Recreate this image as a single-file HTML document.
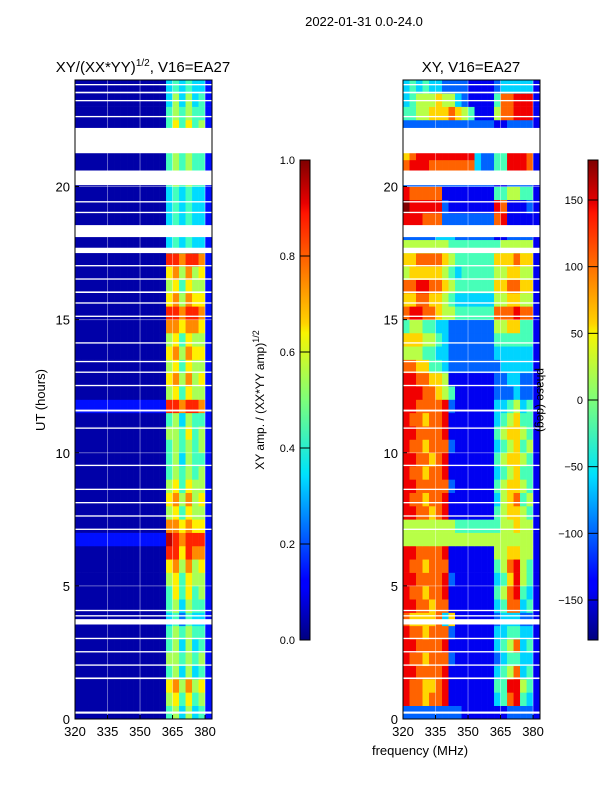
<!DOCTYPE html>
<html><head><meta charset="utf-8">
<style>
body{margin:0;background:#fff;}
svg text{font-family:"Liberation Sans","DejaVu Sans",sans-serif;fill:#000;}
</style></head>
<body>
<svg id="fig" width="600" height="800" viewBox="0 0 600 800" xmlns="http://www.w3.org/2000/svg">
<defs>
<linearGradient id="jet" x1="0" y1="1" x2="0" y2="0">
<stop offset="0" stop-color="#00007f"/>
<stop offset="0.11" stop-color="#0000ff"/>
<stop offset="0.125" stop-color="#0000ff"/>
<stop offset="0.34" stop-color="#00dcff"/>
<stop offset="0.35" stop-color="#00e4f8"/>
<stop offset="0.5" stop-color="#7dff7a"/>
<stop offset="0.64" stop-color="#f8f500"/>
<stop offset="0.66" stop-color="#ffd200"/>
<stop offset="0.89" stop-color="#ff1300"/>
<stop offset="0.91" stop-color="#e80000"/>
<stop offset="1" stop-color="#7f0000"/>
</linearGradient>
</defs>
<text x="364" y="26" font-size="13" text-anchor="middle">2022-01-31 0.0-24.0</text>
<text x="143" y="72" font-size="15" text-anchor="middle">XY/(XX*YY)<tspan dy="-6" font-size="10">1/2</tspan><tspan dy="6">, V16=EA27</tspan></text>
<text x="471" y="72" font-size="15" text-anchor="middle">XY, V16=EA27</text>
<text transform="translate(45,400) rotate(-90)" font-size="13" text-anchor="middle">UT (hours)</text>
<text x="420" y="755" font-size="13" text-anchor="middle">frequency (MHz)</text>
<g id="leftPanel"></g>
<g id="rightPanel"></g>
<g id="cbars"></g>
<text transform="translate(264,400) rotate(-90)" font-size="12" text-anchor="middle">XY amp. / (XX*YY amp)<tspan dy="-5" font-size="9">1/2</tspan></text>
<text transform="translate(537,400) rotate(90)" font-size="12" text-anchor="middle">phase (deg)</text>
</svg>
<script>
// ---- data ----
const freqStart = [320,323,326,329,332,335,338,341,344,347,350,353,356,359,362,365,368,371,374,377,380];
const binWidthMHz = 3;
const rowHours = 0.5;
// amplitude rows (t=0 at index 0), digit d -> 0.04 + 0.1*d
const ampRows = [
"000000000000004535341","000000000000005646451","000000000000006757561","000000000000004535341",
"000000000000005545451","000000000000004535341","000000000000004545441","000000000000003424331",
"000000000000004535441","000000000000004646451","000000000000005646551","000000000000006757561",
"000000000000008868771","111111111111119878881","000000000000007767661","000000000000005646551",
"000000000000006757561","000000000000005646551","000000000000004545451","000000000000004535441",
"000000000000004545451","000000000000005546451","000000000000004535441","111111111111118878871",
"000000000000005646551","000000000000006757561","000000000000005646551","000000000000006757661",
"000000000000005646551","000000000000007767761","000000000000008878871","000000000000006757661",
"000000000000005646551","000000000000006757561","000000000000008878871","000000000000003434331",
"000000000000003434331","000000000000003434331","000000000000003434331","000000000000003434331",
"000000000000004545441","000000000000004545441","000000000000004545441","000000000000004545441",
"000000000000004646451","000000000000004545441","000000000000003535341","000000000000003434331"];
// phase rows, digits 0-9 -> -180..180 deg
const phaseRows = [
"222222222111111122221","877677811111113478431","877667811111114488541","887777811111113457341",
"877677721111112344331","887777811111113457341","877677721111113344331","766667361111112333221",
"887767711111113477341","877677811111114578431","887777821111113468541","877677711111114578541",
"887777811111115566551","555555555555555555551","555555554444444556551","887767811111114566541",
"877677811111113567451","887777721111114566541","877677811111113456441","887767811111114566541",
"877677721111113456451","887777811111114566541","877677811111113456441","887777821111113345341",
"888776541111112223221","887766511111112233221","776644322222222333331","555443322222223333331",
"666554322222224444441","455443322222225566441","788776554444447778771","667766543333335566551",
"778877654444446677661","566666543444445566551","667777654444446667661","555555544444444555551",
"222223332222221122221","888777222222227811111","988888211111118711121","877777111111114455441",
"222222222222221122221","788877777773224488871","678888888883224488871","222222222222221122221",
"222222222222221122221","445566676541115778881","345556553211114778881","343433222211112333331"];
const gapStart = [21.25,20.05,18.1,17.5,3.55,0.2,1.5,2.0,2.5,3.0,3.85,4.05,7.1,7.6,8.1,8.6,9.5,10.9,11.55,12.5,13.0,13.4,14.1,15.1,15.6,16.0,16.5,17.0,19.0,19.4,22.6,23.2,23.5,23.8];
const gapEnd   = [22.2,20.6,18.55,17.7,3.75,0.28,1.56,2.05,2.55,3.05,3.9,4.1,7.15,7.65,8.15,8.65,9.55,10.95,11.62,12.55,13.05,13.45,14.15,15.15,15.65,16.06,16.55,17.05,19.05,19.45,22.65,23.25,23.56,23.85];
const xTicks = [320,335,350,365,380];
const yTicks = [0,5,10,15,20];
const ampTicks = [0.0,0.2,0.4,0.6,0.8,1.0];
const phaseTicks = [-150,-100,-50,0,50,100,150];

// ---- axes ----
const NS="http://www.w3.org/2000/svg";
const FMIN=320, FMAX=383.2, TMAX=24;
const PW=137, PTOP=80, PBOT=719;
function xs(x0,f){return x0+(f-FMIN)*PW/(FMAX-FMIN);}
function ys(t){return PBOT-t*(PBOT-PTOP)/TMAX;}
function jet(v){
  v=Math.max(0,Math.min(1,v));
  const c=x=>Math.round(255*Math.max(0,Math.min(1,1.5-Math.abs(4*v-x))));
  return `rgb(${c(3)},${c(2)},${c(1)})`;
}
function mk(tag,attrs,parent){const e=document.createElementNS(NS,tag);for(const k in attrs)e.setAttribute(k,attrs[k]);parent.appendChild(e);return e;}

function drawPanel(g,x0,rows,name,norm){
  rows.forEach((row,ri)=>{
    const t0=ri*rowHours;
    for(let ci=0;ci<row.length;ci++){
      const v=norm(parseInt(row[ci],10));
      const f0=freqStart[ci];
      const xa=xs(x0,f0), xb=Math.min(xs(x0,f0+binWidthMHz),x0+PW);
      const r=mk('rect',{x:xa.toFixed(2),y:ys(t0+rowHours).toFixed(2),width:(xb-xa+0.3).toFixed(2),height:(ys(t0)-ys(t0+rowHours)+0.3).toFixed(2),fill:jet(v)},g);
      
      
    }
  });
  gapStart.forEach((s,i)=>{
    const r=mk('rect',{x:x0,y:ys(gapEnd[i]).toFixed(2),width:PW,height:Math.max(1,ys(s)-ys(gapEnd[i])).toFixed(2),fill:'#fff'},g);
    
    
  });
  xTicks.forEach(f=>{
    const l=mk('line',{x1:xs(x0,f),x2:xs(x0,f),y1:PTOP,y2:PBOT,stroke:'#fff','stroke-opacity':0.4,'stroke-width':1},g);
    
    
  });
  yTicks.forEach(t=>{
    const l=mk('line',{x1:x0,x2:x0+PW,y1:ys(t),y2:ys(t),stroke:'#fff','stroke-opacity':0.4,'stroke-width':1},g);
    
    
  });
  const fr=mk('rect',{x:x0,y:PTOP,width:PW,height:PBOT-PTOP,fill:'none',stroke:'#000','stroke-width':1},g);
  
  
  xTicks.forEach(f=>{
    const tx=mk('text',{x:xs(x0,f),y:PBOT+17,'font-size':13,'text-anchor':'middle'},g);
    tx.textContent=f;
    
    
    mk('line',{x1:xs(x0,f),x2:xs(x0,f),y1:PBOT,y2:PBOT-4,stroke:'#000'},g);
  });
  yTicks.forEach(t=>{
    const tx=mk('text',{x:x0-5,y:ys(t)+5,'font-size':13,'text-anchor':'end'},g);
    tx.textContent=t;
    
    
    mk('line',{x1:x0,x2:x0+4,y1:ys(t),y2:ys(t),stroke:'#000'},g);
  });
}
drawPanel(document.getElementById('leftPanel'),75,ampRows,'amp',d=>0.04+0.1*d);
drawPanel(document.getElementById('rightPanel'),403,phaseRows,'phase',d=>d/9);

function drawCbar(x,ticks,vmin,vmax,name,fmt){
  const g=document.getElementById('cbars');
  const CT=160,CB=640,W=10;
  const r=mk('rect',{x:x,y:CT,width:W,height:CB-CT,fill:'url(#jet)',stroke:'#000','stroke-width':1},g);
  
  
  ticks.forEach(v=>{
    const y=CB-(v-vmin)/(vmax-vmin)*(CB-CT);
    mk('line',{x1:x,x2:x+W,y1:y,y2:y,stroke:'#000','stroke-width':1},g);
    const tx=mk('text',{x:x-5,y:y+4,'font-size':11,'text-anchor':'end'},g);
    tx.textContent=fmt(v);
    
    
  });
}
drawCbar(300,ampTicks,0,1,'amp-colorbar',v=>v.toFixed(1));
drawCbar(588,phaseTicks,-180,180,'phase-colorbar',v=>v<0?'\u2212'+(-v):String(v));
</script>
</body></html>
